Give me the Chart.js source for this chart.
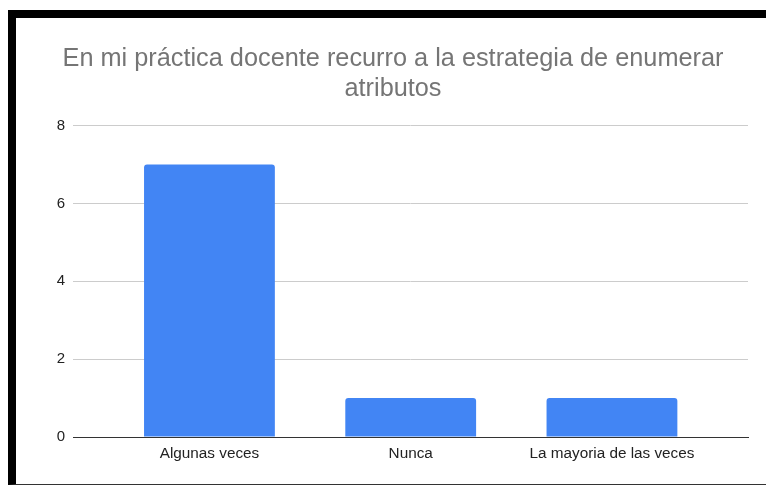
<!DOCTYPE html>
<html>
<head>
<meta charset="utf-8">
<script src="https://cdn.jsdelivr.net/npm/chart.js@4"></script>
<style>
  html, body { margin: 0; padding: 0; background: #fff; }
  #marco {
    position: absolute;
    left: 8px;
    top: 10px;
    width: 758px;
    height: 475px;
    border-left: 8px solid #000;
    border-top: 8px solid #000;
    border-bottom: 1px solid #333;
    box-sizing: border-box;
  }
  #grafico { position: absolute; left: 0; top: 0; }
</style>
</head>
<body>
<div id="marco">
  <canvas id="grafico" width="750" height="466"></canvas>
</div>
<script>
// respuestas de la encuesta
const categorias = ['Algunas veces', 'Nunca', 'La mayoria de las veces'];
const respuestas = [7, 1, 1];
const ticksY = [0, 2, 4, 6, 8];

const titulo = ['En mi práctica docente recurro a la estrategia de enumerar', 'atributos'];

const puntos = respuestas.map((v, i) => ({ x: i, y: v }));

const data = {
    datasets: [{
        data: puntos,
        backgroundColor: '#4285F4',
        borderWidth: 0,
        borderRadius: { topLeft: 3, topRight: 3 },
        borderSkipped: 'start',
        categoryPercentage: 1,
        barPercentage: 0.65,
    }]
};

const config = {
    type: 'bar',
    data: data,
    options: {
        responsive: false,
        animation: false,
        layout: {
            padding: { left: 22, right: 18 }
        },
        plugins: {
            legend: { display: false },
            tooltip: { enabled: false },
            title: {
                display: true,
                text: titulo,
                color: '#757575',
                font: { family: 'Liberation Sans, Arial, sans-serif', size: 25.3, weight: 'normal', lineHeight: 1.18 },
                padding: { top: 26, bottom: 22 }
            }
        },
        scales: {
            x: {
                type: 'linear',
                offset: false,
                min: -0.678,
                max: 2.676,
                afterBuildTicks: (scale) => {
                    scale.ticks = categorias.map((c, i) => ({ value: i }));
                },
                afterFit: (scale) => { scale.height = 47; },
                grid: { display: false, drawTicks: false },
                border: { display: true, color: '#333', width: 1 },
                ticks: {
                    padding: 8,
                    color: '#222',
                    maxRotation: 0,
                    autoSkip: false,
                    font: { family: 'Liberation Sans, Arial, sans-serif', size: 15.3 },
                    callback: (v) => categorias[v]
                }
            },
            y: {
                min: 0,
                max: 8,
                afterBuildTicks: (scale) => {
                    scale.ticks = ticksY.map(v => ({ value: v }));
                },
                afterFit: (scale) => { scale.width = 35; },
                border: { display: false },
                grid: {
                    drawTicks: false,
                    color: (ctx) => ctx.tick && ctx.tick.value === 0 ? '#333' : '#ccc'
                },
                ticks: {
                    padding: 8,
                    color: '#222',
                    font: { family: 'Liberation Sans, Arial, sans-serif', size: 15 }
                }
            }
        }
    }
};

const grafico = new Chart(document.getElementById('grafico'), config);
</script>
</body>
</html>
